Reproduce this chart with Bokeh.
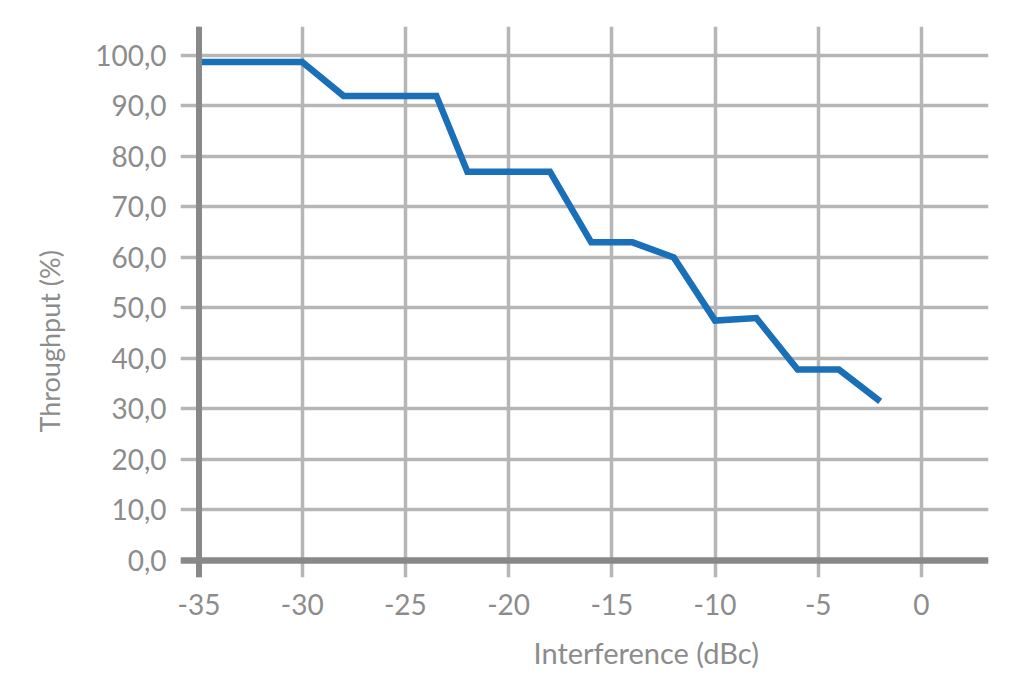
from bokeh.plotting import figure
from bokeh.models import Span, Title, FixedTicker, Range1d
from bokeh.embed import file_html
from bokeh.resources import INLINE

# Data
interference_dbc = [-35, -30, -28, -23.5, -22, -18, -16, -14, -12, -10, -8, -6, -4, -2]
throughput_pct = [98.7, 98.7, 92.0, 92.0, 77.0, 77.0, 63.0, 63.0, 60.0, 47.5, 48.0, 37.8, 37.8, 31.5]

x_ticks = [-35, -30, -25, -20, -15, -10, -5, 0]
x_tick_labels = {v: str(v) for v in x_ticks}
y_ticks = [0, 10, 20, 30, 40, 50, 60, 70, 80, 90, 100]
y_tick_labels = {v: f"{v},0" for v in y_ticks}

x_title = "Interference (dBc)"
y_title = "Throughput (%)"

FONT = "Lato"
TEXT = "#8c8c8c"
GRID = "#b6b6b6"
AXIS = "#888888"
BLUE = "#1a70b8"

p = figure(width=1000, height=684, frame_width=808, frame_height=551,
           output_backend="svg", toolbar_location=None,
           x_range=Range1d(-35.896, 3.246), y_range=Range1d(-3.37, 105.74),
           min_border_left=180, min_border_right=12, min_border_top=26, min_border_bottom=107)
p.outline_line_color = None
p.background_fill_color = "white"
p.border_fill_color = "white"

for ax in (p.xaxis[0], p.yaxis[0]):
    ax.axis_line_color = None
    ax.major_tick_line_color = None
    ax.minor_tick_line_color = None
    ax.major_label_text_font = FONT
    ax.major_label_text_font_size = "28px"
    ax.major_label_text_color = TEXT

p.xaxis.ticker = FixedTicker(ticks=x_ticks)
p.yaxis.ticker = FixedTicker(ticks=y_ticks)
p.xaxis.major_label_overrides = x_tick_labels
p.yaxis.major_label_overrides = y_tick_labels
p.xaxis.major_label_standoff = 10
p.yaxis.major_label_standoff = 8

p.xgrid.ticker = FixedTicker(ticks=x_ticks)
p.ygrid.ticker = FixedTicker(ticks=y_ticks)
for g in (p.xgrid[0], p.ygrid[0]):
    g.grid_line_color = GRID
    g.grid_line_width = 3.5

p.line(interference_dbc, throughput_pct, line_color=BLUE, line_width=6.5, line_join="miter")

p.add_layout(Span(location=x_ticks[0], dimension="height", line_color=AXIS, line_width=6))
p.add_layout(Span(location=y_ticks[0], dimension="width", line_color=AXIS, line_width=6.5))

p.add_layout(Title(text=x_title, text_font=FONT, text_font_size="29px", text_font_style="normal",
                   text_color=TEXT, align="left", offset=353, standoff=31), "below")
p.add_layout(Title(text=y_title, text_font=FONT, text_font_size="27px", text_font_style="normal",
                   text_color=TEXT, align="left", offset=145, standoff=53), "left")

open("out.html", "w").write(file_html(p, INLINE))
